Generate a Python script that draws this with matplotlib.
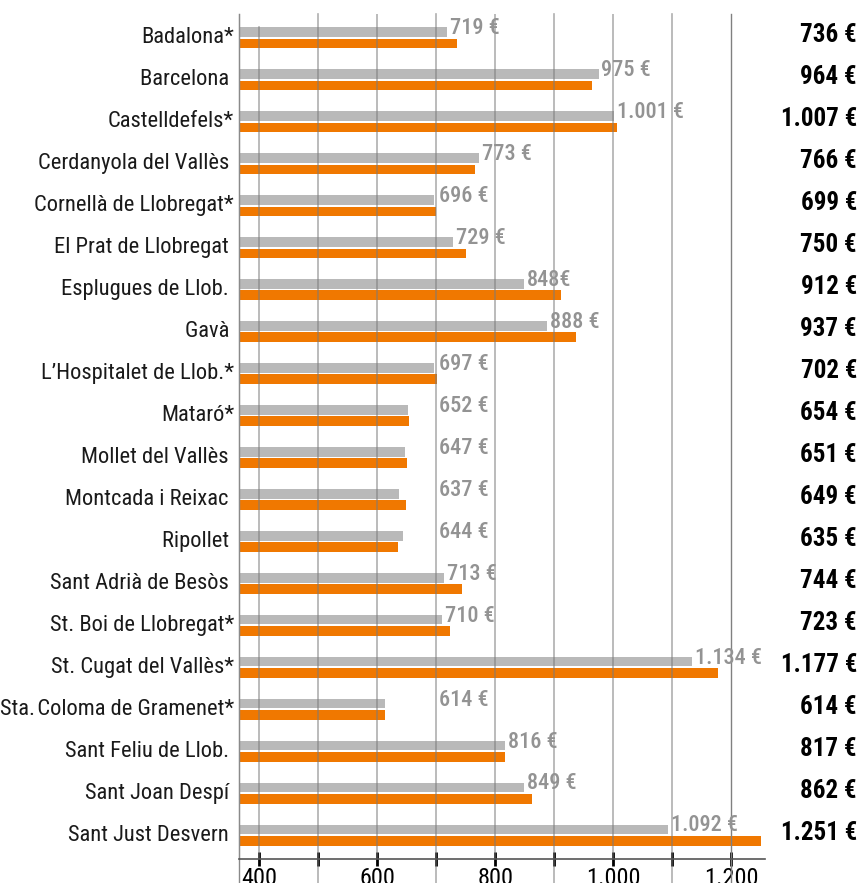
import matplotlib
matplotlib.use("Agg")
import matplotlib.pyplot as plt
import matplotlib.transforms as mtransforms
from matplotlib.ticker import MultipleLocator, FuncFormatter

FAMILY = ['Roboto Condensed', 'Archivo Narrow', 'DejaVu Sans']
plt.rcParams['font.family'] = FAMILY

cities = ["Badalona*", "Barcelona ", "Castelldefels*", "Cerdanyola del Vallès ",
          "Cornellà de Llobregat*", "El Prat de Llobregat ", "Esplugues de Llob. ",
          "Gavà ", "L\u2019Hospitalet de Llob.*", "Mataró*", "Mollet del Vallès ",
          "Montcada i Reixac ", "Ripollet ", "Sant Adrià de Besòs ",
          "St. Boi de Llobregat*", "St. Cugat del Vallès*", "Sta.\u200aColoma de Gramenet*",
          "Sant Feliu de Llob. ", "Sant Joan Despí ", "Sant Just Desvern "]
prev_values = [719, 975, 1001, 773, 696, 729, 848, 888, 697, 652, 647, 637, 644,
               713, 710, 1134, 614, 816, 849, 1092]
prev_labels = ["719 €", "975 €", "1.001 €", "773 €", "696 €", "729 €", "848€",
               "888 €", "697 €", "652 €", "647 €", "637 €", "644 €", "713 €",
               "710 €", "1.134 €", "614 €", "816 €", "849 €", "1.092 €"]
curr_values = [736, 964, 1007, 766, 699, 750, 912, 937, 702, 654, 651, 649, 635,
               744, 723, 1177, 614, 817, 862, 1251]

def fmt(v):
    return f"{v:,}".replace(",", ".")

GREY = "#b9b9b9"
ORANGE = "#f07800"

fig = plt.figure(figsize=(8.59, 8.83), dpi=100)
ax = fig.add_axes([239/859, 1-859/883, (765-239)/859, (859-14)/883])

n = len(cities)
ys = list(range(n))
bh = 0.23
ax.barh([y - 0.135 for y in ys], prev_values, height=bh, color=GREY, zorder=2)
ax.barh([y + 0.135 for y in ys], curr_values, height=bh, color=ORANGE, zorder=2)

ax.set_xlim(366, 1257)
ax.set_ylim(n - 1 + 0.57, -0.57)

# gridlines
for gx in range(400, 1201, 100):
    if gx == 1200:
        ax.axvline(gx, ymin=-0.03, ymax=1, color="#808080", lw=1.0, zorder=3, clip_on=False)
    elif gx % 200 == 0:
        ax.axvline(gx, ymin=0, ymax=1 if gx != 400 else 0.985, color="#7a7a7a",
                   alpha=0.6, lw=1.2, zorder=3)
    else:
        ax.axvline(gx, ymin=-0.03, ymax=1, color="#7a7a7a", alpha=0.6, lw=1.2,
                   zorder=3, clip_on=False)

for s in ["top", "right"]:
    ax.spines[s].set_visible(False)
ax.spines["left"].set_color("#8a8a8a")
ax.spines["bottom"].set_color("#555555")
ax.spines["bottom"].set_linewidth(1.2)
ax.spines["bottom"].set_zorder(4)
ax.axvline(366, ymin=-0.03, ymax=1, color="#8a8a8a", lw=1.0, clip_on=False, zorder=4)

ax.xaxis.set_major_locator(MultipleLocator(100))
ax.xaxis.set_major_formatter(FuncFormatter(lambda v, p: fmt(int(v)) if int(v) % 200 == 0 else ""))
ax.tick_params(axis="x", direction="inout", length=10, width=2, color="black",
               labelsize=17.5, pad=1)
ax.set_yticks([])

trans_name = mtransforms.blended_transform_factory(fig.transFigure, ax.transData)
for y, name in zip(ys, cities):
    ax.text(234/859, y, name, transform=trans_name, ha="right", va="center",
            fontsize=16.2, color="#1a1a1a")

for y, v, lab in zip(ys, prev_values, prev_labels):
    ax.text(max(v, 700) + 5, y - 0.23, lab, ha="left", va="center",
            fontsize=16, fontweight="medium", color="#939393", zorder=5)

for y, v in zip(ys, curr_values):
    ax.text(857/859, y - 0.06, fmt(v) + " €", transform=trans_name, ha="right",
            va="center", fontsize=18, fontweight="bold", color="black")

fig.savefig("out.png", dpi=100)
